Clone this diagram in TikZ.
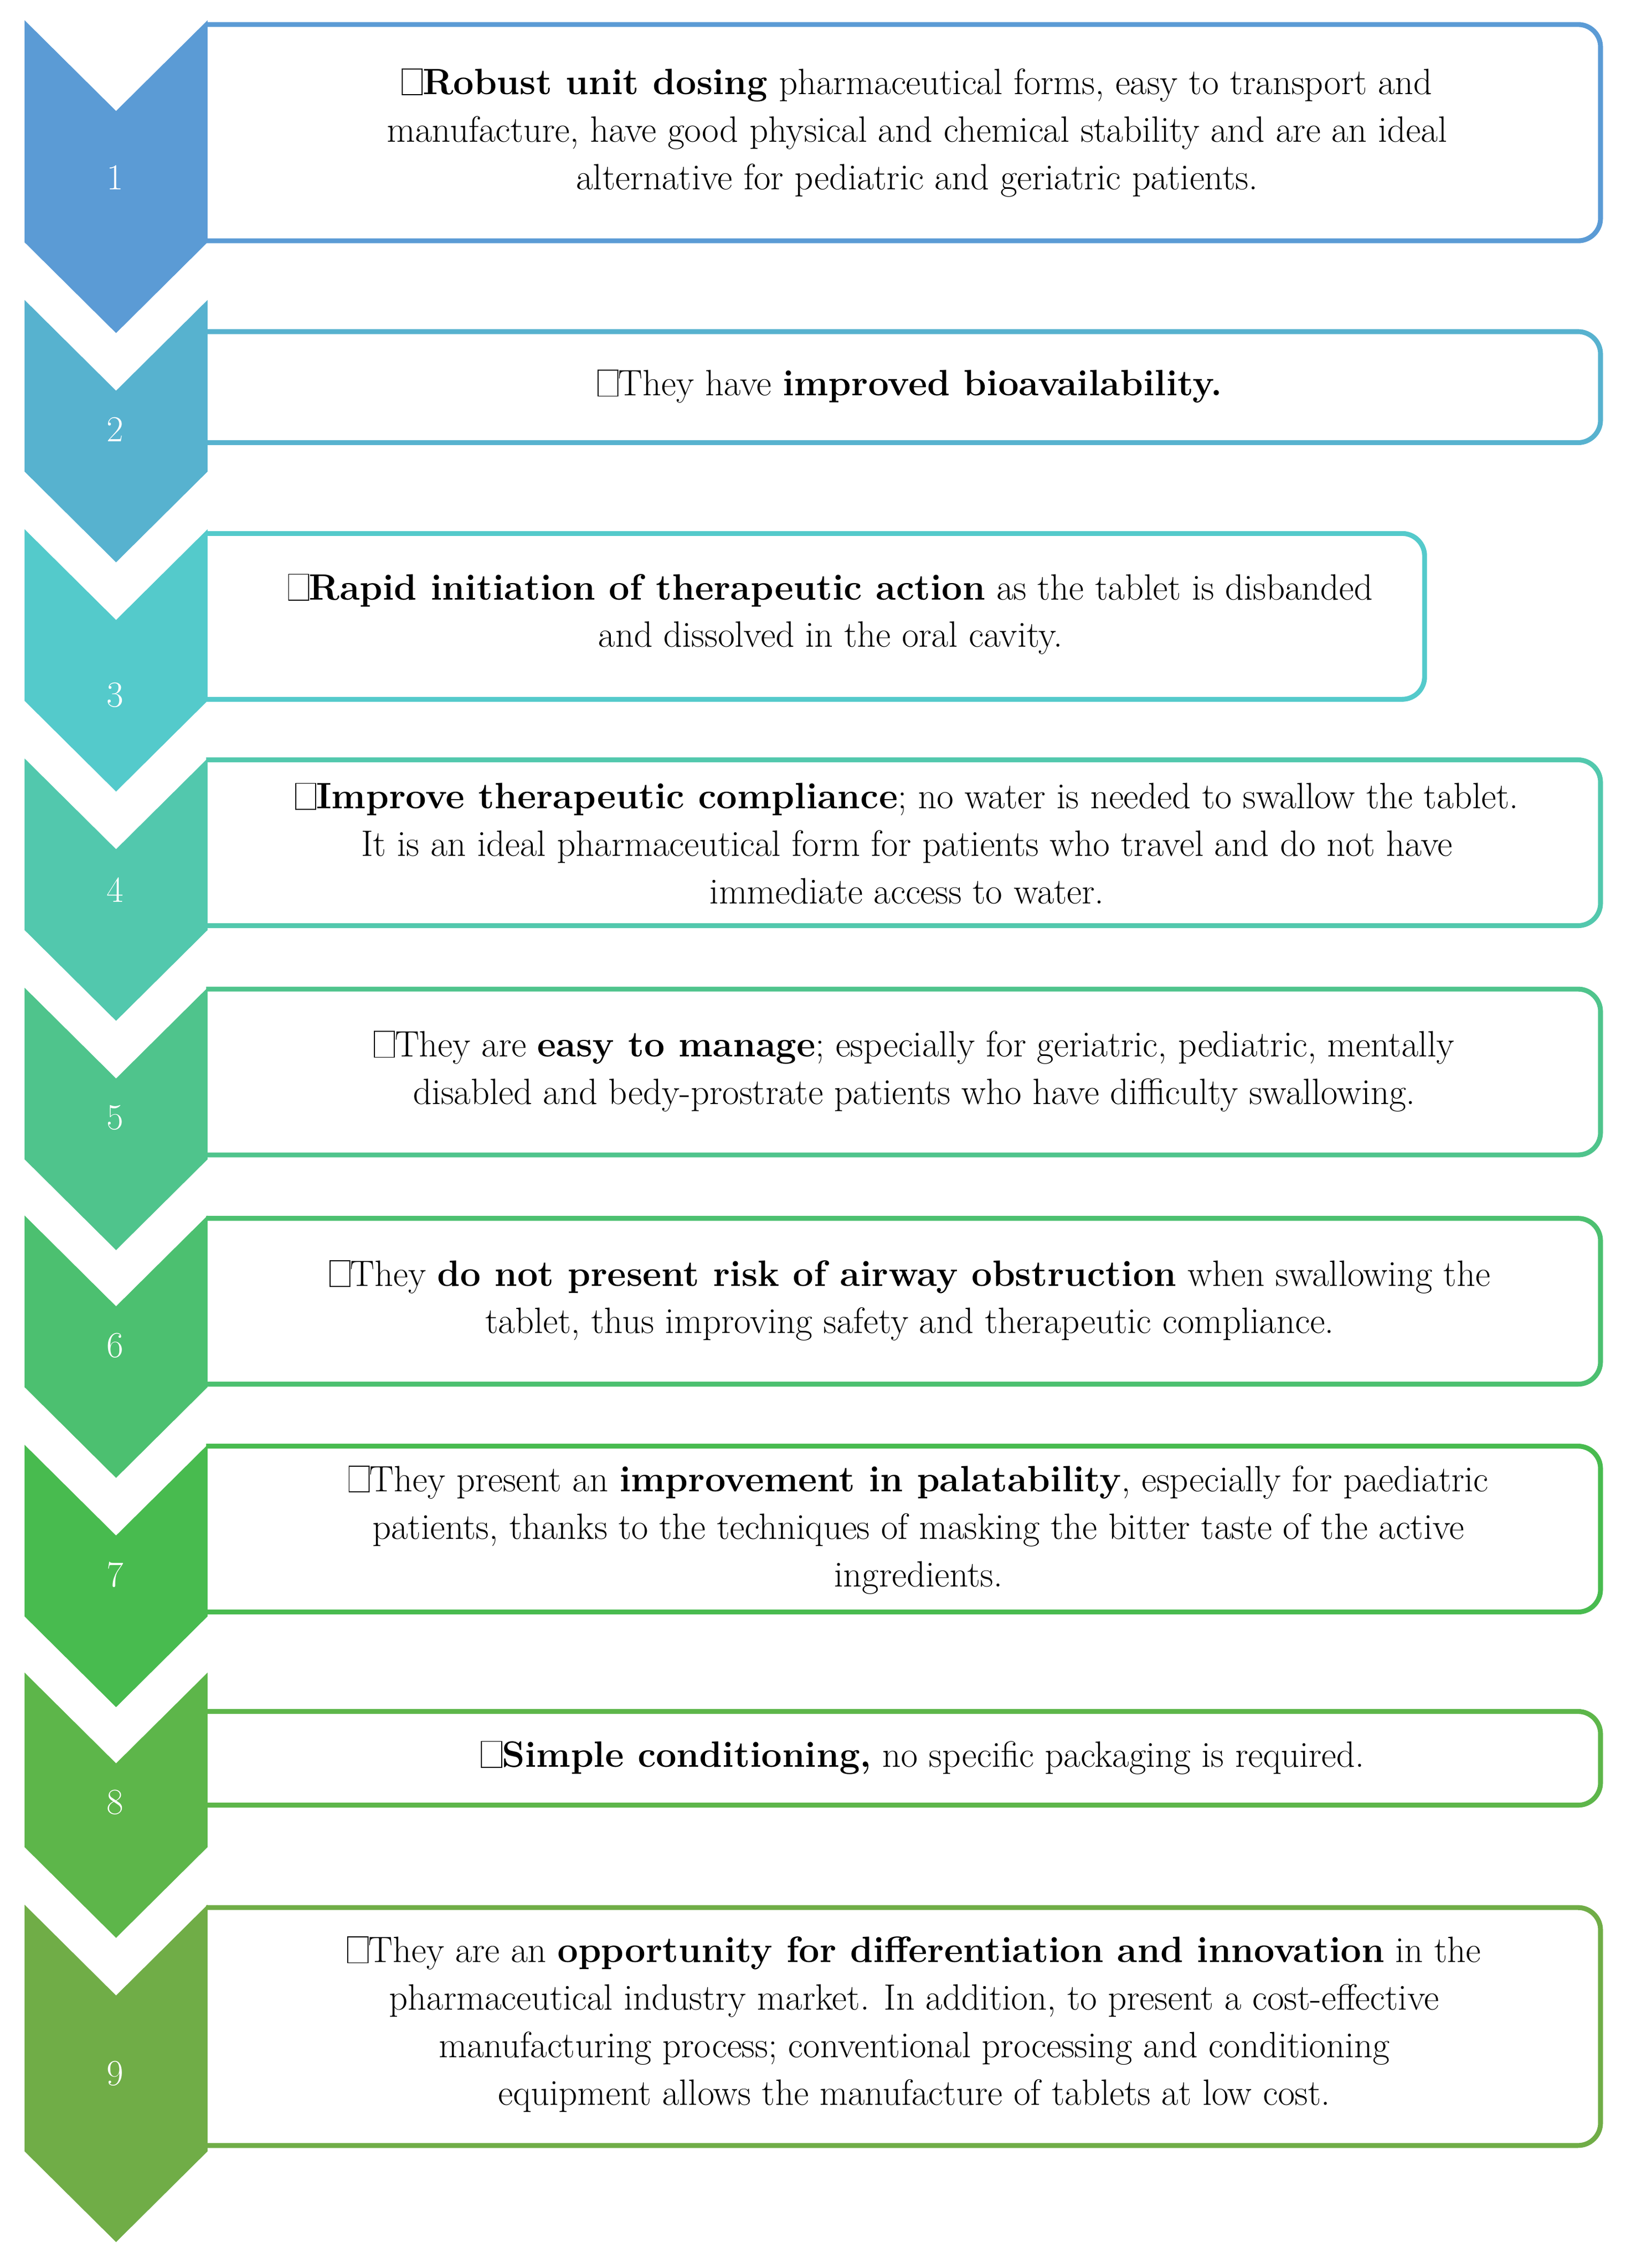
\documentclass[tikz,border=0pt]{standalone}
\definecolor{c1}{HTML}{5B9BD5}
\definecolor{c2}{HTML}{57B2CF}
\definecolor{c3}{HTML}{54CACB}
\definecolor{c4}{HTML}{52C8AD}
\definecolor{c5}{HTML}{4FC48C}
\definecolor{c6}{HTML}{4CC070}
\definecolor{c7}{HTML}{48BB4F}
\definecolor{c8}{HTML}{5DB64A}
\definecolor{c9}{HTML}{70AD47}
\newcommand\tofu{{\setlength\fboxsep{0pt}\setlength\fboxrule{0.5pt}\fbox{\rule{0pt}{0.68em}\hspace{0.52em}}}}
\begin{document}
\begin{tikzpicture}[x=0.02696cm,y=-0.02696cm,
  boxline/.style={draw=#1,line width=2.6pt,rounded corners=0.42cm},
  chev/.style={fill=#1},
  num/.style={text=white,font=\fontsize{19.5}{24}\selectfont,inner sep=0pt},
  txt/.style={align=center,font=\fontsize{19.5}{25.3}\selectfont,inner sep=0pt}]
\useasboundingbox (0,0) rectangle (1131,1573);
% boxes
\newcommand\bx[4]{\draw[boxline=#1] (143,#2) -- (#4,#2) -- (#4,#3) -- (143,#3);}
\bx{c1}{17}{167}{1110}
\bx{c2}{230}{307}{1110}
\bx{c3}{370}{485}{988}
\bx{c4}{527}{642}{1110}
\bx{c5}{686}{801}{1110}
\bx{c6}{845}{960}{1110}
\bx{c7}{1003}{1118}{1110}
\bx{c8}{1187}{1252}{1110}
\bx{c9}{1323}{1488}{1110}
% chevrons
\newcommand\ch[3]{\fill[chev=#1] (17,#2) -- (80.5,#2+63) -- (144,#2) -- (144,#3) -- (80.5,#3+63) -- (17,#3) -- cycle;}
\ch{c1}{14}{168}
\ch{c2}{208}{327}
\ch{c3}{367}{486}
\ch{c4}{526}{645}
\ch{c5}{685}{804}
\ch{c6}{843}{962}
\ch{c7}{1002}{1121}
\ch{c8}{1160}{1281}
\ch{c9}{1321}{1492}
% numbers
\node[num] (n1) at (80,123) {1};
\node[num] (n2) at (80,298) {2};
\node[num] (n3) at (80,482) {3};
\node[num] (n4) at (80,617) {4};
\node[num] (n5) at (80,775) {5};
\node[num] (n6) at (80,933) {6};
\node[num] (n7) at (80,1092) {7};
\node[num] (n8) at (80,1250) {8};
\node[num] (n9) at (80,1438) {9};
% texts
\node[txt] (t1) at (636,92) {\tofu\textbf{Robust unit dosing} pharmaceutical forms, easy to transport and\\ manufacture, have good physical and chemical stability and are an ideal\\ alternative for pediatric and geriatric patients.};
\node[txt] (t2) at (631,268) {\tofu They have \textbf{improved bioavailability.}};
\node[txt] (t3) at (576,426) {\tofu\textbf{Rapid initiation of therapeutic action} as the tablet is disbanded\\ and dissolved in the oral cavity.};
\node[txt] (t4) at (629,585) {\tofu\textbf{Improve therapeutic compliance}; no water is needed to swallow the tablet.\\ It is an ideal pharmaceutical form for patients who travel and do not have\\ immediate access to water.};
\node[txt] (t5) at (634,743) {\tofu They are \textbf{easy to manage}; especially for geriatric, pediatric, mentally\\ disabled and bedy-prostrate patients who have difficulty swallowing.};
\node[txt] (t6) at (631,902) {\tofu They \textbf{do not present risk of airway obstruction} when swallowing the\\ tablet, thus improving safety and therapeutic compliance.};
\node[txt] (t7) at (637,1061) {\tofu They present an \textbf{improvement in palatability}, especially for paediatric\\ patients, thanks to the techniques of masking the bitter taste of the active\\ ingredients.};
\node[txt] (t8) at (640,1219) {\tofu\textbf{Simple conditioning,} no specific packaging is required.};
\node[txt] (t9) at (634,1404) {\tofu They are an \textbf{opportunity for differentiation and innovation} in the\\ pharmaceutical industry market. In addition, to present a cost-effective\\ manufacturing process; conventional processing and conditioning\\ equipment allows the manufacture of tablets at low cost.};
\end{tikzpicture}
\end{document}
